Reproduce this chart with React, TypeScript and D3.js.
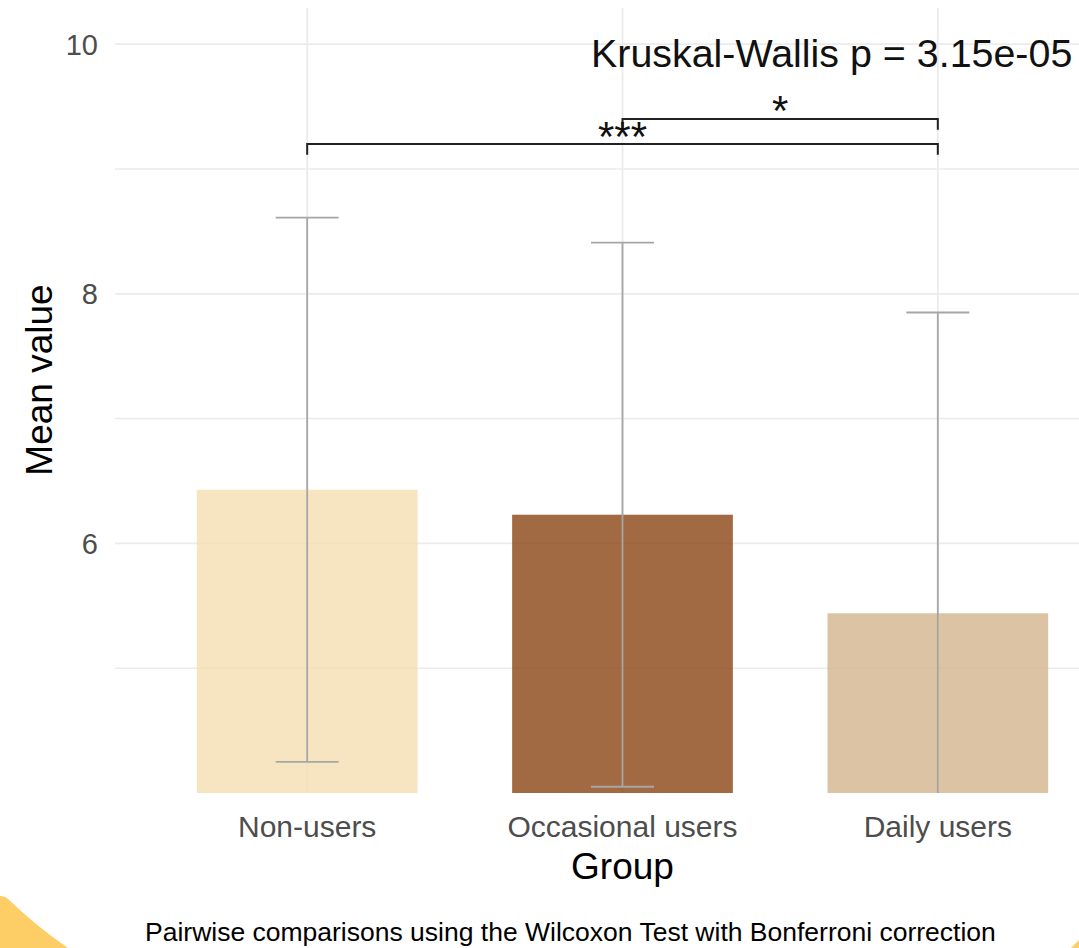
import * as d3 from "d3";
import { useEffect, useRef } from "react";

const groups = ["Non-users", "Occasional users", "Daily users"];
const meanValues = [6.43, 6.23, 5.44];
const sdValues = [2.18, 2.18, 2.41];
const barColors = ["wheat", "saddlebrown", "tan"];
const majorTicks = [6, 8, 10];
const minorTicks = [5, 7, 9];
const kruskalLabel = "Kruskal-Wallis p = 3.15e-05";
const comparisons = [
    { from: "Non-users", to: "Daily users", y: 9.2, label: "***" },
    { from: "Occasional users", to: "Daily users", y: 9.4, label: "*" },
];
const footnote = "Pairwise comparisons using the Wilcoxon Test with Bonferroni correction";

const W = 1079;
const H = 948;
const FONT = "'Liberation Sans', Arial, sans-serif";

const App = () => {
    const chartRef = useRef(null);

    useEffect(() => {
        const svg = d3.select(chartRef.current);
        svg.selectAll("*").remove();

        const margin = { top: 8, bottom: 155, left: 118, right: -48 };
        const x0 = margin.left;
        const x1 = W - margin.right;
        const y0 = H - margin.bottom;
        const y1 = margin.top;

        const scaleX = d3.scalePoint().domain(groups).range([x0, x1]).padding(0.6);
        const step = scaleX.step();
        const barW = step * 0.7;
        const scaleY = d3.scaleLinear().domain([4, 10.29]).range([y0, y1]);

        svg.append("defs").append("clipPath").attr("id", "panel")
            .append("rect").attr("x", x0 - 3).attr("y", y1).attr("width", x1 - x0 + 3).attr("height", y0 - y1);

        // grid
        const grid = svg.append("g").attr("clip-path", "url(#panel)");
        grid.selectAll(".minor").data(minorTicks).enter().append("line")
            .attr("x1", x0 - 3).attr("x2", x1)
            .attr("y1", d => scaleY(d)).attr("y2", d => scaleY(d))
            .style("stroke", "#ebebeb").style("stroke-width", 1.5);
        grid.selectAll(".major").data(majorTicks).enter().append("line")
            .attr("x1", x0 - 3).attr("x2", x1)
            .attr("y1", d => scaleY(d)).attr("y2", d => scaleY(d))
            .style("stroke", "#ebebeb").style("stroke-width", 1.8);
        grid.selectAll(".vgrid").data(groups).enter().append("line")
            .attr("x1", d => scaleX(d)).attr("x2", d => scaleX(d))
            .attr("y1", y1).attr("y2", y0)
            .style("stroke", "#ebebeb").style("stroke-width", 1.8);

        const panel = svg.append("g").attr("clip-path", "url(#panel)");
        panel.selectAll(".bar").data(groups).enter().append("rect")
            .attr("x", d => scaleX(d) - barW / 2)
            .attr("width", barW)
            .attr("y", (d, i) => scaleY(meanValues[i]))
            .attr("height", (d, i) => scaleY(0) - scaleY(meanValues[i]))
            .style("fill", (d, i) => barColors[i])
            .style("fill-opacity", 0.8);

        const capW = 63;
        const eb = panel.selectAll(".eb").data(groups).enter().append("g")
            .style("stroke", "#a6a6a6").style("stroke-width", 1.8);
        eb.append("line")
            .attr("x1", d => scaleX(d)).attr("x2", d => scaleX(d))
            .attr("y1", (d, i) => scaleY(meanValues[i] + sdValues[i]))
            .attr("y2", (d, i) => scaleY(meanValues[i] - sdValues[i]));
        [1, -1].forEach(s => {
            eb.append("line")
                .attr("x1", d => scaleX(d) - capW / 2).attr("x2", d => scaleX(d) + capW / 2)
                .attr("y1", (d, i) => scaleY(meanValues[i] + s * sdValues[i]))
                .attr("y2", (d, i) => scaleY(meanValues[i] + s * sdValues[i]));
        });

        // significance brackets
        const tip = 0.085;
        comparisons.forEach(c => {
            const xa = scaleX(c.from);
            const xb = scaleX(c.to);
            panel.append("path")
                .attr("d", `M${xa},${scaleY(c.y - tip)}V${scaleY(c.y)}H${xb}V${scaleY(c.y - tip)}`)
                .style("fill", "none").style("stroke", "#222").style("stroke-width", 2);
        });
        svg.append("text").attr("x", (scaleX(groups[0]) + scaleX(groups[2])) / 2).attr("y", scaleY(9.2) + 7)
            .attr("text-anchor", "middle").style("font-family", FONT).style("font-size", "42px")
            .style("fill", "#111").text(comparisons[0].label);
        svg.append("text").attr("x", (scaleX(groups[1]) + scaleX(groups[2])) / 2).attr("y", scaleY(9.4) + 6)
            .attr("text-anchor", "middle").style("font-family", FONT).style("font-size", "42px")
            .style("fill", "#111").text(comparisons[1].label);

        svg.append("text").attr("x", 591).attr("y", 67)
            .style("font-family", FONT).style("font-size", "39.4px").style("fill", "#111")
            .text(kruskalLabel);

        // axes text
        svg.selectAll(".ytick").data(majorTicks).enter().append("text")
            .attr("x", 98).attr("y", d => scaleY(d)).attr("dy", "0.36em")
            .attr("text-anchor", "end")
            .style("font-family", FONT).style("font-size", "29px").style("fill", "#4d4d4d")
            .text(d => d);
        svg.selectAll(".xtick").data(groups).enter().append("text")
            .attr("x", d => scaleX(d)).attr("y", 837)
            .attr("text-anchor", "middle")
            .style("font-family", FONT).style("font-size", "30px").style("fill", "#4d4d4d")
            .text(d => d);
        svg.append("text").attr("x", (x0 + x1) / 2).attr("y", 879)
            .attr("text-anchor", "middle")
            .style("font-family", FONT).style("font-size", "37px").style("fill", "#000")
            .text("Group");
        svg.append("text").attr("transform", "translate(52,380) rotate(-90)")
            .attr("text-anchor", "middle")
            .style("font-family", FONT).style("font-size", "37px").style("fill", "#000")
            .text("Mean value");

        // decorative corners + footnote
        svg.append("path").attr("d", "M0,896 Q5,896 8,899 Q36,926 68,948 L0,948 Z").style("fill", "#fdcd66");
        svg.append("path").attr("d", "M1079,940 L1079,948 L1071,948 Z").style("fill", "#fdcd66");
        svg.append("text").attr("x", 145).attr("y", 941)
            .style("font-family", FONT).style("font-size", "26.5px").style("fill", "#000")
            .text(footnote);
    }, []);

    return (
        <svg ref={chartRef} width={W} height={H}
            style={{ position: "absolute", left: 0, top: 0, background: "#fff" }}></svg>
    );
};

export default App;
